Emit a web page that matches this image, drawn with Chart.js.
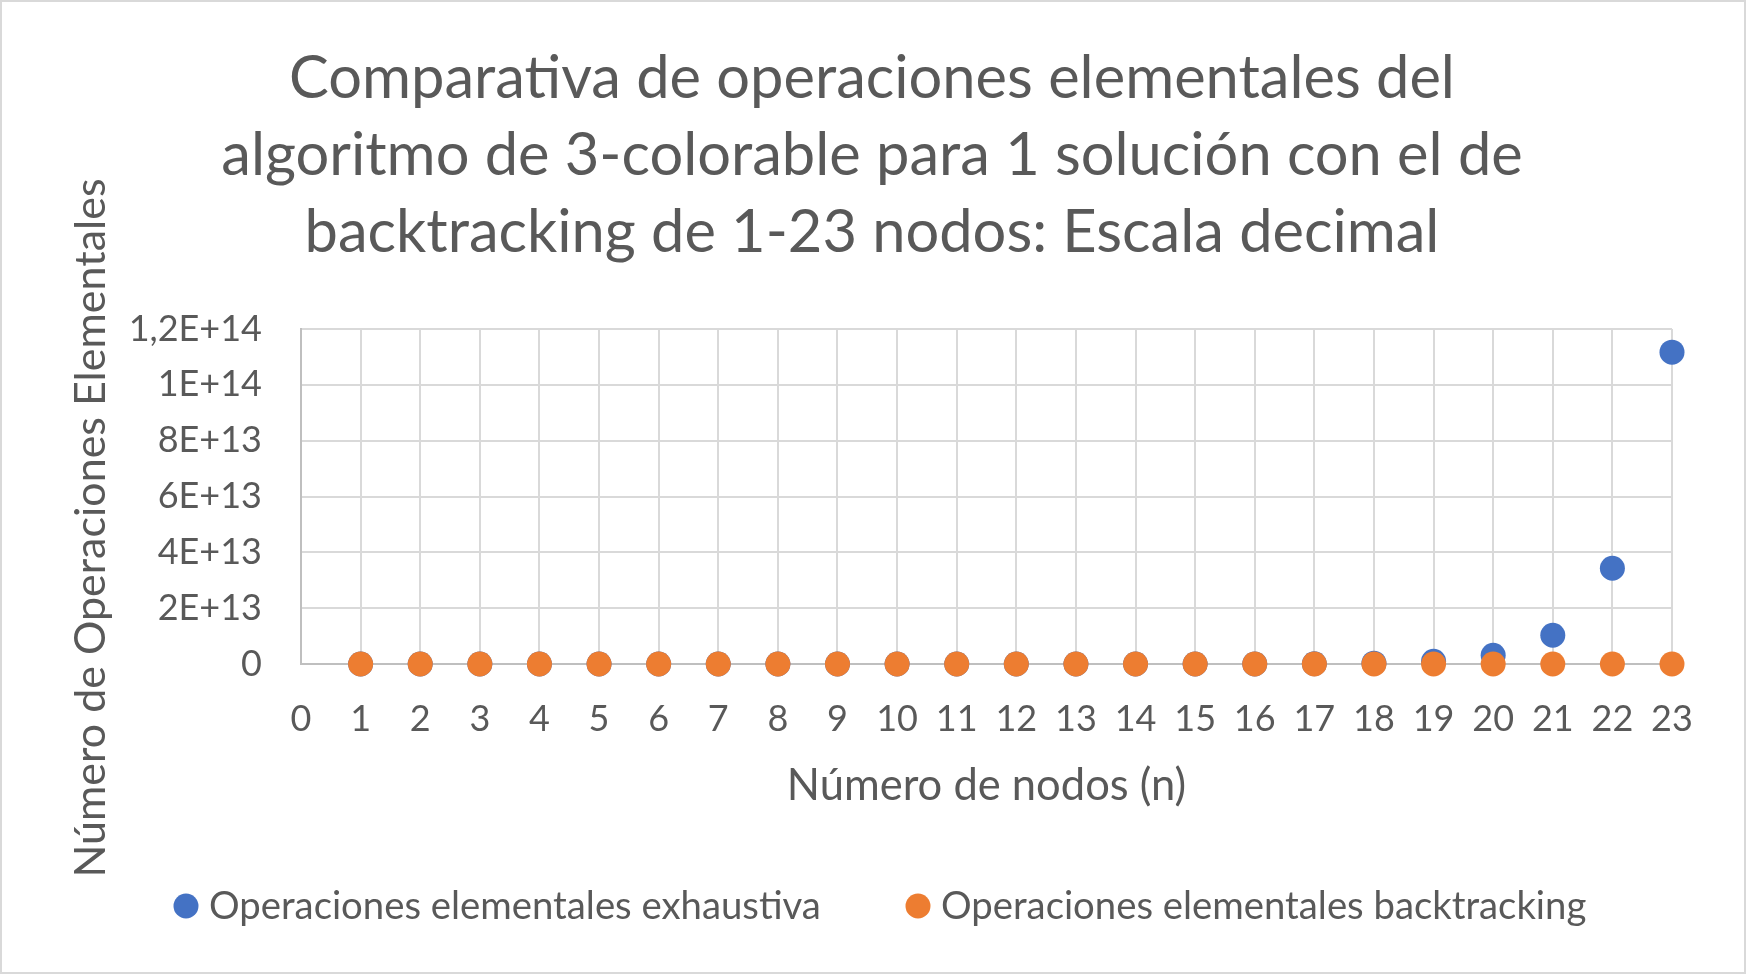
<!DOCTYPE html>
<html>
<head>
<meta charset="utf-8">
<script src="https://cdn.jsdelivr.net/npm/chart.js@4/dist/chart.umd.min.js"></script>
<style>
  html, body { margin: 0; padding: 0; background: #ffffff; }
  #wrap { position: relative; width: 1746px; height: 974px; box-sizing: border-box; border: 2px solid #d9d9d9; background: #fff; }
  canvas { position: absolute; left: -2px; top: -2px; }
</style>
</head>
<body>
<div id="wrap"><canvas id="c" width="1746" height="974"></canvas></div>
<script>
// ---- data ----
const nodes = [1,2,3,4,5,6,7,8,9,10,11,12,13,14,15,16,17,18,19,20,21,22,23];
const exhaustiva = [90, 450, 1900, 7600, 29000, 110000, 390000, 1400000, 4900000, 17000000,
  59000000, 200000000, 690000000, 2300000000, 7800000000, 26000000000, 87000000000,
  290000000000, 950000000000, 3100000000000, 10300000000000, 34300000000000, 111700000000000];
const backtracking = [25, 80, 190, 360, 600, 920, 1330, 1840, 2450, 3170, 4000, 4950,
  6030, 7240, 8590, 10080, 11720, 13520, 15480, 17610, 19920, 22410, 25090];
const yTickValues = [0, 2e13, 4e13, 6e13, 8e13, 1e14, 1.2e14];
const yTickLabels = ['0', '2E+13', '4E+13', '6E+13', '8E+13', '1E+14', '1,2E+14'];
const titleLines = ['Comparativa de operaciones elementales del',
                    'algoritmo de 3-colorable para 1 solución con el de',
                    'backtracking de 1-23 nodos: Escala decimal'];
const xTitle = 'Número de nodos (n)';
const yTitle = 'Número de Operaciones Elementales';
const seriesNames = ['Operaciones elementales exhaustiva', 'Operaciones elementales backtracking'];
const seriesColors = ['#4472C4', '#ED7D31'];

const FONT = 'Lato, Calibri, Carlito, sans-serif';
const TXT = '#595959';

const textPlugin = {
  id: 'texts',
  afterDraw(chart) {
    const ctx = chart.ctx;
    ctx.save();
    ctx.fillStyle = TXT;
    // title
    ctx.font = '59.6px ' + FONT;
    ctx.textAlign = 'center';
    ctx.textBaseline = 'alphabetic';
    const tb = [98, 175, 252];
    titleLines.forEach((l, i) => ctx.fillText(l, 872, tb[i]));
    // x axis title
    ctx.font = '43.5px ' + FONT;
    const ca = chart.chartArea;
    ctx.fillText(xTitle, (ca.left + ca.right) / 2, 800);
    // y axis title
    ctx.font = '43px ' + FONT;
    ctx.save();
    ctx.translate(105, 528);
    ctx.rotate(-Math.PI / 2);
    ctx.fillText(yTitle, 0, 0);
    ctx.restore();
    // legend
    ctx.font = '38.3px ' + FONT;
    ctx.textAlign = 'left';
    const lx = [186, 918];
    seriesNames.forEach((name, i) => {
      ctx.fillStyle = seriesColors[i];
      ctx.beginPath();
      ctx.arc(lx[i], 906, 12.5, 0, Math.PI * 2);
      ctx.fill();
      ctx.fillStyle = TXT;
      ctx.fillText(name, lx[i] + 23, 919);
    });
    ctx.restore();
  }
};

new Chart(document.getElementById('c'), {
  type: 'scatter',
  data: {
    datasets: [
      { label: seriesNames[0], data: nodes.map((n, i) => ({ x: n, y: exhaustiva[i] })),
        backgroundColor: seriesColors[0], borderColor: seriesColors[0],
        pointRadius: 12.5, pointBorderWidth: 0, pointHoverRadius: 12.5, order: 1, clip: false },
      { label: seriesNames[1], data: nodes.map((n, i) => ({ x: n, y: backtracking[i] })),
        backgroundColor: seriesColors[1], borderColor: seriesColors[1],
        pointRadius: 12.5, pointBorderWidth: 0, pointHoverRadius: 12.5, order: 0, clip: false }
    ]
  },
  options: {
    responsive: false,
    animation: false,
    devicePixelRatio: 1,
    layout: { padding: { top: 329, right: 74, bottom: 0, left: 0 } },
    plugins: { legend: { display: false }, title: { display: false }, tooltip: { enabled: false } },
    scales: {
      x: {
        type: 'linear', min: 0, max: 23,
        ticks: { stepSize: 1, color: TXT, font: { family: FONT, size: 36 }, padding: 34, maxRotation: 0, autoSkip: false },
        grid: { color: '#d9d9d9', lineWidth: 2, drawTicks: false },
        border: { color: '#bfbfbf', width: 2 },
        afterFit(s) { s.height = 310; s.paddingLeft = 0; s.paddingRight = 0; }
      },
      y: {
        type: 'linear', min: 0, max: 1.2e14,
        afterBuildTicks(s) { s.ticks = yTickValues.map(v => ({ value: v })); },
        ticks: { color: TXT, font: { family: FONT, size: 36 }, padding: 39,
          callback: (v) => yTickLabels[yTickValues.indexOf(v)] },
        grid: { color: '#d9d9d9', lineWidth: 2, drawTicks: false },
        border: { color: '#bfbfbf', width: 2 },
        afterFit(s) { s.width = 301; s.paddingTop = 0; s.paddingBottom = 0; }
      }
    }
  },
  plugins: [textPlugin]
});
</script>
</body>
</html>
